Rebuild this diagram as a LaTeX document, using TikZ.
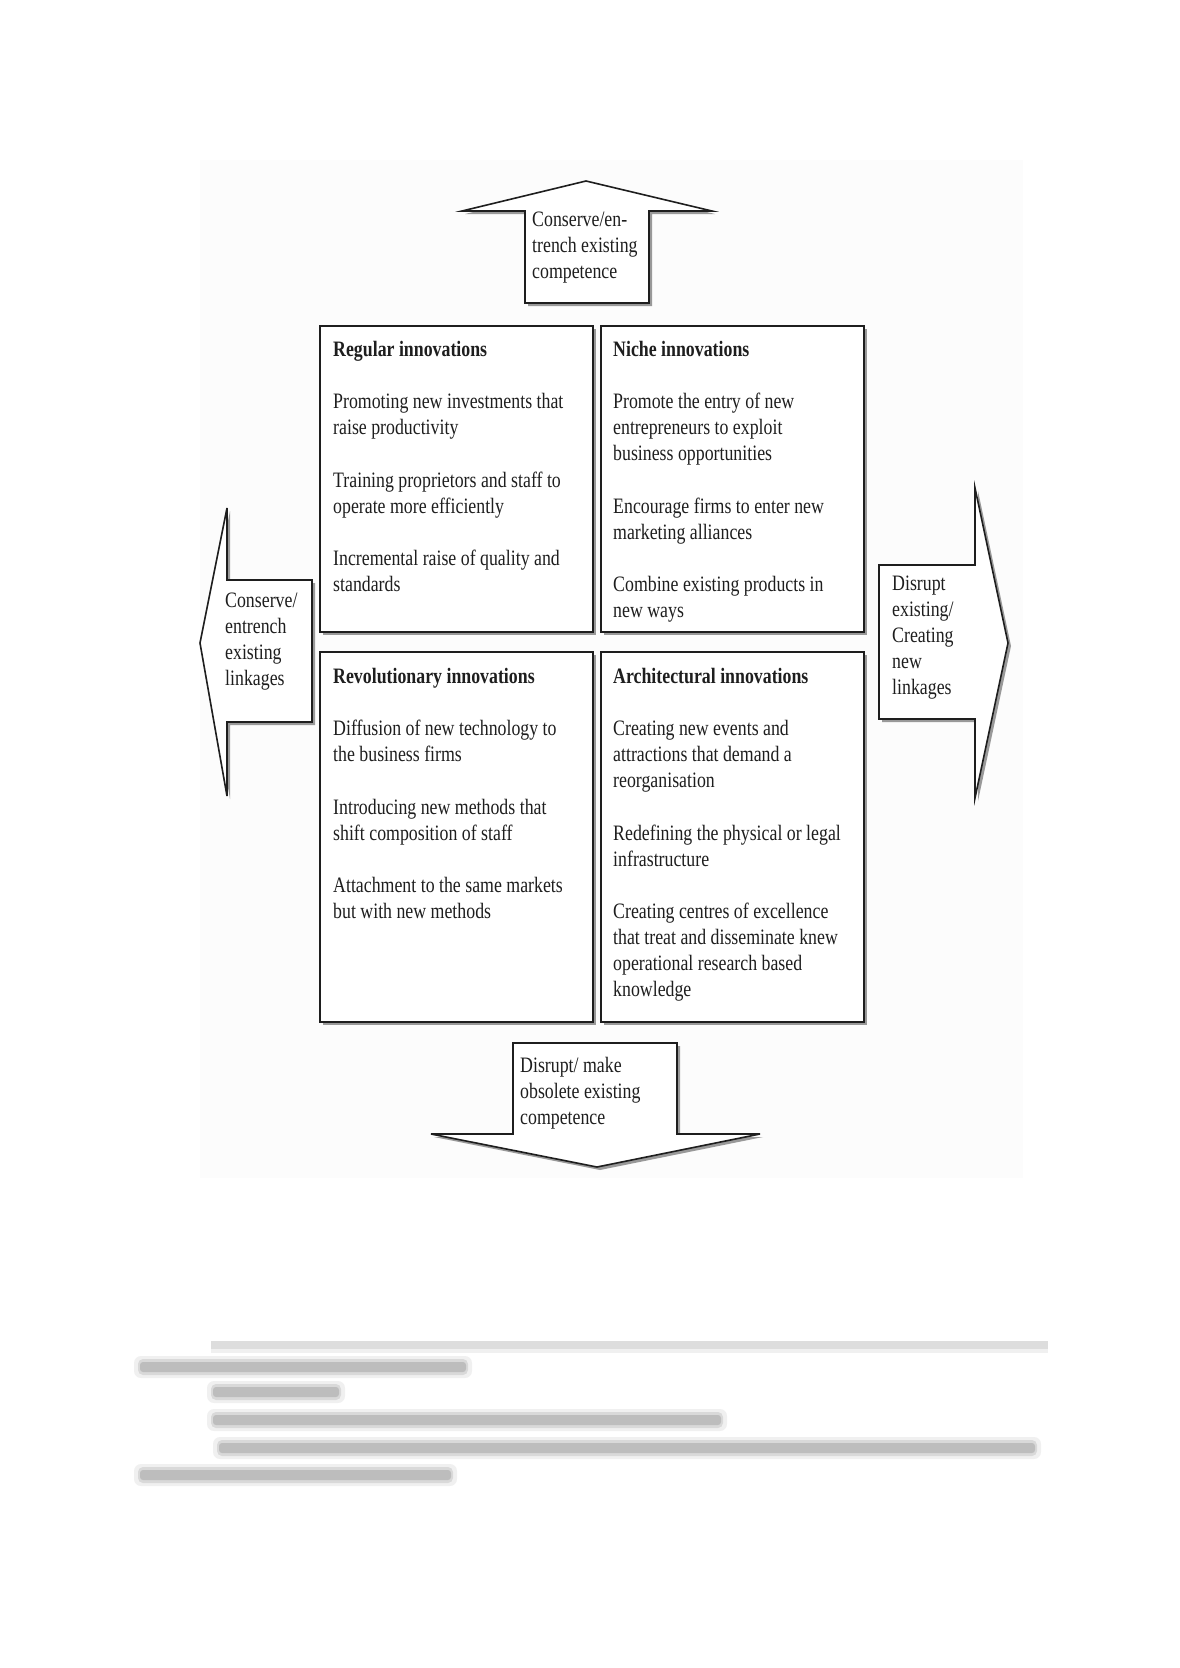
\documentclass[tikz,border=0pt]{standalone}
\usepackage{fontspec}
\setmainfont{Liberation Serif}[FakeStretch=0.81]
\usetikzlibrary{shadows}
\definecolor{panel}{RGB}{252,252,252}
\definecolor{ink}{RGB}{30,30,30}
\newcommand{\blurline}[3]{%
  \fill[black!55, opacity=0.10, rounded corners=7pt] (#1-4,#3-11) rectangle (#2+4,#3+11);
  \fill[black!55, opacity=0.18, rounded corners=5pt] (#1,#3-8) rectangle (#2,#3+8);
  \fill[black!60, opacity=0.24, rounded corners=3pt] (#1+2,#3-5) rectangle (#2-2,#3+5);
}
\tikzset{
  shade/.style={drop shadow={shadow xshift=3pt, shadow yshift=-3pt, fill=black!40, opacity=1}},
  boxsty/.style={draw=ink, line width=1.6pt, fill=white, shade, inner sep=0pt, anchor=north west},
  arrowsty/.style={draw=ink, line width=1.6pt, fill=white, line join=miter, shade},
  txt/.style={anchor=north west, inner sep=0pt, align=left, font=\fontsize{22}{26}\selectfont, text=ink},
}
\begin{document}
\begin{tikzpicture}[x=1pt, y=-1pt]
\useasboundingbox (0,0) rectangle (1180,1668);
\fill[white] (0,0) rectangle (1180,1668);
\fill[panel] (200,160) rectangle (1023,1178);

% ---- boxes ----
\node[boxsty, minimum width=273pt, minimum height=306pt] (reg) at (319,325) {};
\node[boxsty, minimum width=263pt, minimum height=306pt] (niche) at (600,325) {};
\node[boxsty, minimum width=273pt, minimum height=370pt] (rev) at (319,651) {};
\node[boxsty, minimum width=263pt, minimum height=370pt] (arch) at (600,651) {};

\node[txt] (regt) at (333,340) {\rule{0pt}{16pt}\textbf{Regular innovations}\\[26.5pt]
Promoting new investments that\\ raise productivity\\[26.5pt]
Training proprietors and staff to\\ operate more efficiently\\[26.5pt]
Incremental raise of quality and\\ standards};

\node[txt] (nicht) at (613,340) {\rule{0pt}{16pt}\textbf{Niche innovations}\\[26.5pt]
Promote the entry of new\\ entrepreneurs to exploit\\ business opportunities\\[26.5pt]
Encourage firms to enter new\\ marketing alliances\\[26.5pt]
Combine existing products in\\ new ways};

\node[txt] (revt) at (333,667) {\rule{0pt}{16pt}\textbf{Revolutionary innovations}\\[26.5pt]
Diffusion of new technology to\\ the business firms\\[26.5pt]
Introducing new methods that\\ shift composition of staff\\[26.5pt]
Attachment to the same markets\\ but with new methods};

\node[txt] (archt) at (613,667) {\rule{0pt}{16pt}\textbf{Architectural innovations}\\[26.5pt]
Creating new events and\\ attractions that demand a\\ reorganisation\\[26.5pt]
Redefining the physical or legal\\ infrastructure\\[26.5pt]
Creating centres of excellence\\ that treat and disseminate knew\\ operational research based\\ knowledge};

% ---- arrows ----
\draw[arrowsty] (525,303) -- (525,211) -- (462,211) -- (586,181) -- (712,211) -- (649,211) -- (649,303) -- cycle;
\node[txt] (upt) at (532,210) {\rule{0pt}{16pt}Conserve/en-\\ trench existing\\ competence};

\draw[arrowsty] (312,580) -- (227,580) -- (227,508) -- (200,643) -- (227,796) -- (227,722) -- (312,722) -- cycle;
\node[txt] (leftt) at (225,591) {\rule{0pt}{16pt}Conserve/\\ entrench\\ existing\\ linkages};

\draw[arrowsty] (879,565) -- (975,565) -- (975,488) -- (1008,643) -- (975,798) -- (975,719) -- (879,719) -- cycle;
\node[txt] (rightt) at (892,574) {\rule{0pt}{16pt}Disrupt\\ existing/\\ Creating\\ new\\ linkages};

\draw[arrowsty] (513,1043) -- (677,1043) -- (677,1134) -- (760,1134) -- (597,1167) -- (431,1134) -- (513,1134) -- cycle;
\node[txt] (downt) at (520,1056) {\rule{0pt}{16pt}Disrupt/ make\\ obsolete existing\\ competence};

% ---- blurred body text below ----
\fill[black!55, opacity=0.24] (211,1341) rectangle (1048,1349);
\fill[black!55, opacity=0.10] (211,1349) rectangle (1048,1353);
\blurline{138}{468}{1367}
\blurline{211}{341}{1392}
\blurline{211}{723}{1420}
\blurline{217}{1037}{1448}
\blurline{138}{453}{1475}
\end{tikzpicture}
\end{document}
